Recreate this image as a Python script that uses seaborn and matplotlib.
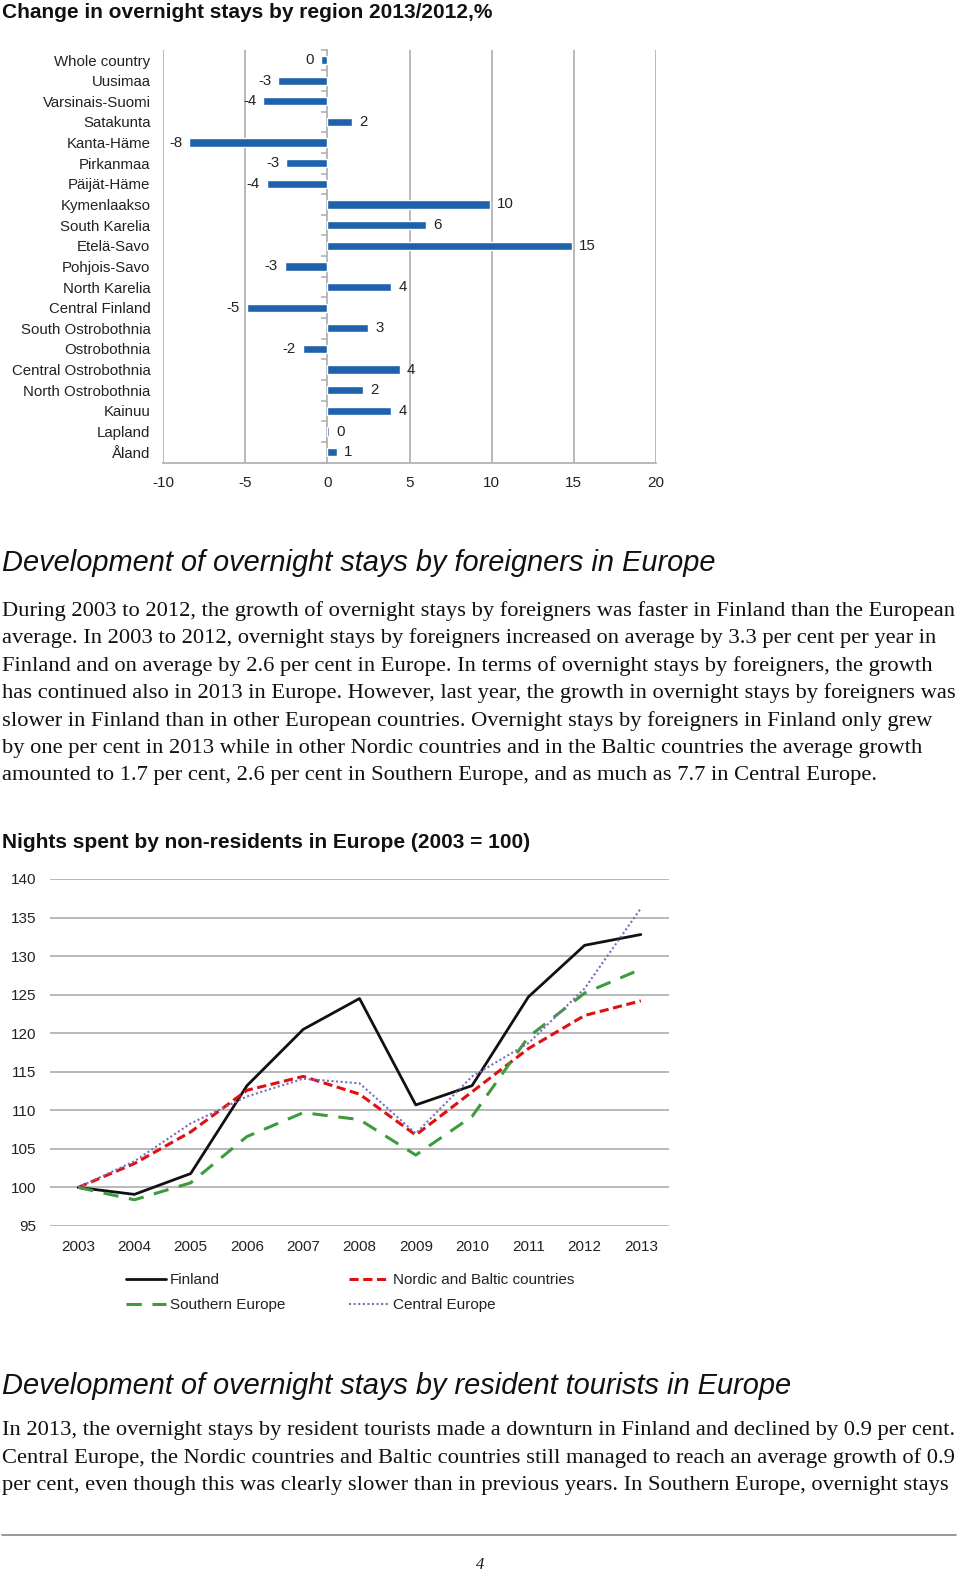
import numpy as np
import pandas as pd
import matplotlib
matplotlib.use("Agg")
import matplotlib.pyplot as plt
import seaborn as sns

# ---------------- data ----------------
regions = ["Whole country", "Uusimaa", "Varsinais-Suomi", "Satakunta", "Kanta-Häme",
           "Pirkanmaa", "Päijät-Häme", "Kymenlaakso", "South Karelia", "Etelä-Savo",
           "Pohjois-Savo", "North Karelia", "Central Finland", "South Ostrobothnia",
           "Ostrobothnia", "Central Ostrobothnia", "North Ostrobothnia", "Kainuu",
           "Lapland", "Åland"]
change = [-0.4, -3.0, -3.9, 1.5, -8.4, -2.5, -3.7, 9.9, 6.0, 14.9,
          -2.6, 3.9, -4.9, 2.5, -1.5, 4.4, 2.2, 3.9, 0.1, 0.6]
change_labels = ["0", "-3", "-4", "2", "-8", "-3", "-4", "10", "6", "15",
                 "-3", "4", "-5", "3", "-2", "4", "2", "4", "0", "1"]
bar_xticks = [-10, -5, 0, 5, 10, 15, 20]

years = ["2003", "2004", "2005", "2006", "2007", "2008", "2009", "2010", "2011", "2012", "2013"]
finland = [100, 99.1, 101.8, 113.2, 120.5, 124.5, 110.7, 113.2, 124.7, 131.4, 132.8]
nordic = [100, 103.1, 107.2, 112.6, 114.4, 112.1, 106.8, 112.4, 118.0, 122.3, 124.2]
southern = [100, 98.4, 100.6, 106.6, 109.7, 108.8, 104.2, 109.2, 119.5, 125.2, 128.3]
central = [100, 103.4, 108.3, 111.8, 114.1, 113.5, 107.0, 114.4, 118.7, 125.8, 136.2]
series_names = ["Finland", "Nordic and Baltic countries", "Southern Europe", "Central Europe"]
line_yticks = [95, 100, 105, 110, 115, 120, 125, 130, 135, 140]

title1 = "Change in overnight stays by region 2013/2012,%"
heading1 = "Development of overnight stays by foreigners in Europe"
para1 = [
    "During 2003 to 2012, the growth of overnight stays by foreigners was faster in Finland than the European",
    "average. In 2003 to 2012, overnight stays by foreigners increased on average by 3.3 per cent per year in",
    "Finland and on average by 2.6 per cent in Europe. In terms of overnight stays by foreigners, the growth",
    "has continued also in 2013 in Europe. However, last year, the growth in overnight stays by foreigners was",
    "slower in Finland than in other European countries. Overnight stays by foreigners in Finland only grew",
    "by one per cent in 2013 while in other Nordic countries and in the Baltic countries the average growth",
    "amounted to 1.7 per cent, 2.6 per cent in Southern Europe, and as much as 7.7 in Central Europe.",
]
title2 = "Nights spent by non-residents in Europe (2003 = 100)"
heading2 = "Development of overnight stays by resident tourists in Europe"
para2 = [
    "In 2013, the overnight stays by resident tourists made a downturn in Finland and declined by 0.9 per cent.",
    "Central Europe, the Nordic countries and Baltic countries still managed to reach an average growth of 0.9",
    "per cent, even though this was clearly slower than in previous years. In Southern Europe, overnight stays",
]
page_no = "4"

# ---------------- setup ----------------
sns.set_theme(style="white")
plt.rcParams["font.family"] = ["Liberation Sans", "DejaVu Sans"]

W, H = 960, 1572
fig = plt.figure(figsize=(W / 100, H / 100), dpi=100)


def rect(x0, y0, x1, y1):
    return [x0 / W, 1 - y1 / H, (x1 - x0) / W, (y1 - y0) / H]


def ftext(x, y, s, **kw):
    fig.text(x / W, 1 - y / H, s, **kw)


TXT = "#222222"
GRID = "#b3b3b3"
SERIF = ["Liberation Serif", "DejaVu Serif"]

# ---------------- texts ----------------
ftext(2, 13, title1, fontsize=15.0, fontweight="bold", va="center", color="#111111")
ftext(2, 563, heading1, fontsize=20.9, fontstyle="italic", va="center", color="#111111")
for i, line in enumerate(para1):
    ftext(2, 611 + i * 27.4, line, fontsize=16.2, family=SERIF, va="center", color="#111111")
ftext(2, 842, title2, fontsize=15.0, fontweight="bold", va="center", color="#111111")
ftext(2, 1386, heading2, fontsize=20.9, fontstyle="italic", va="center", color="#111111")
for i, line in enumerate(para2):
    ftext(2, 1431 + i * 27.4, line, fontsize=16.2, family=SERIF, va="center", color="#111111")
fig.add_artist(plt.Line2D([2 / W, 956 / W], [1 - 1535 / H, 1 - 1535 / H], color="#888888", lw=1.2))
ftext(480, 1565, page_no, fontsize=12, fontstyle="italic", family=SERIF,
      ha="center", va="center", color="#111111")

# ---------------- bar chart ----------------
ax1 = fig.add_axes(rect(163, 49.7, 656, 462.5))
df_bar = pd.DataFrame({"region": regions, "change": change})
sns.barplot(data=df_bar, x="change", y="region", orient="h", color="#1f62ac",
            saturation=1, width=0.4, ax=ax1)
ax1.set_xlim(-10, 20)
ax1.set_ylim(len(regions) - 0.5, -0.5)
ax1.set_xticks(bar_xticks)
ax1.set_xticklabels([str(t) for t in bar_xticks])
ax1.set_xlabel("")
ax1.set_ylabel("")
ax1.grid(False)
for t in bar_xticks:
    if t != 0:
        ax1.axvline(t, color=GRID, lw=1.3, zorder=0)
for s in ["top", "right", "left"]:
    ax1.spines[s].set_visible(False)
ax1.spines["bottom"].set_color(GRID)
ax1.spines["bottom"].set_linewidth(1.3)
ax1.tick_params(axis="y", length=0, pad=9, labelsize=10.8, labelcolor=TXT)
ax1.tick_params(axis="x", length=0, pad=10, labelsize=11, labelcolor=TXT)
ax1.bar_label(ax1.containers[0], labels=change_labels, padding=5, fontsize=10.8, color=TXT)
# category axis crossing at zero
sec = ax1.secondary_yaxis(1 / 3)
sec.set_yticks(np.arange(-0.5, len(regions), 1))
sec.set_yticklabels([])
sec.tick_params(axis="y", direction="out", length=4, color=GRID, width=1.2)
sec.spines["left"].set_color(GRID)
sec.spines["left"].set_linewidth(1.3)

# ---------------- line chart ----------------
ax2 = fig.add_axes(rect(50, 879, 669, 1226))
df_line = pd.DataFrame({"year": years * 4,
                        "value": finland + nordic + southern + central,
                        "series": np.repeat(series_names, len(years))})
palette = {"Finland": "#111111", "Nordic and Baltic countries": "#e01010",
           "Southern Europe": "#3e9a3e", "Central Europe": "#7a6cc0"}
sns.lineplot(data=df_line, x="year", y="value", hue="series", palette=palette,
             sort=False, ax=ax2, legend=False)
styles = [dict(lw=2.0, ls="-"), dict(lw=2.2, ls=(0, (3, 1.5))),
          dict(lw=2.2, ls=(0, (5, 3.5))), dict(lw=1.5, ls=(0, (1, 1.2)))]
for ln, st in zip(ax2.get_lines(), styles):
    ln.set_linewidth(st["lw"])
    ln.set_linestyle(st["ls"])
ax2.set_xlim(-0.5, len(years) - 0.5)
ax2.set_ylim(95, 140)
ax2.set_yticks(line_yticks)
ax2.set_xlabel("")
ax2.set_ylabel("")
ax2.grid(False)
for t in line_yticks:
    ax2.axhline(t, color=GRID, lw=1.3, zorder=0)
for s in ax2.spines.values():
    s.set_visible(False)
ax2.tick_params(axis="y", length=0, pad=10, labelsize=11, labelcolor=TXT)
ax2.tick_params(axis="x", length=0, pad=10, labelsize=11, labelcolor=TXT)

lines = ax2.get_lines()[:4]
order = [0, 2, 1, 3]  # column-wise fill -> rows: Finland|Nordic, Southern|Central
leg = fig.legend([lines[i] for i in order], [series_names[i] for i in order],
                 loc="upper left", ncol=2,
                 bbox_to_anchor=(126 / W, 1 - 1273 / H), frameon=False,
                 fontsize=11, handlelength=2.6, handletextpad=0.25,
                 columnspacing=4.2, labelspacing=0.75, borderpad=0, borderaxespad=0)
for t in leg.get_texts():
    t.set_color(TXT)

fig.savefig("out.png", dpi=100, facecolor="white")
